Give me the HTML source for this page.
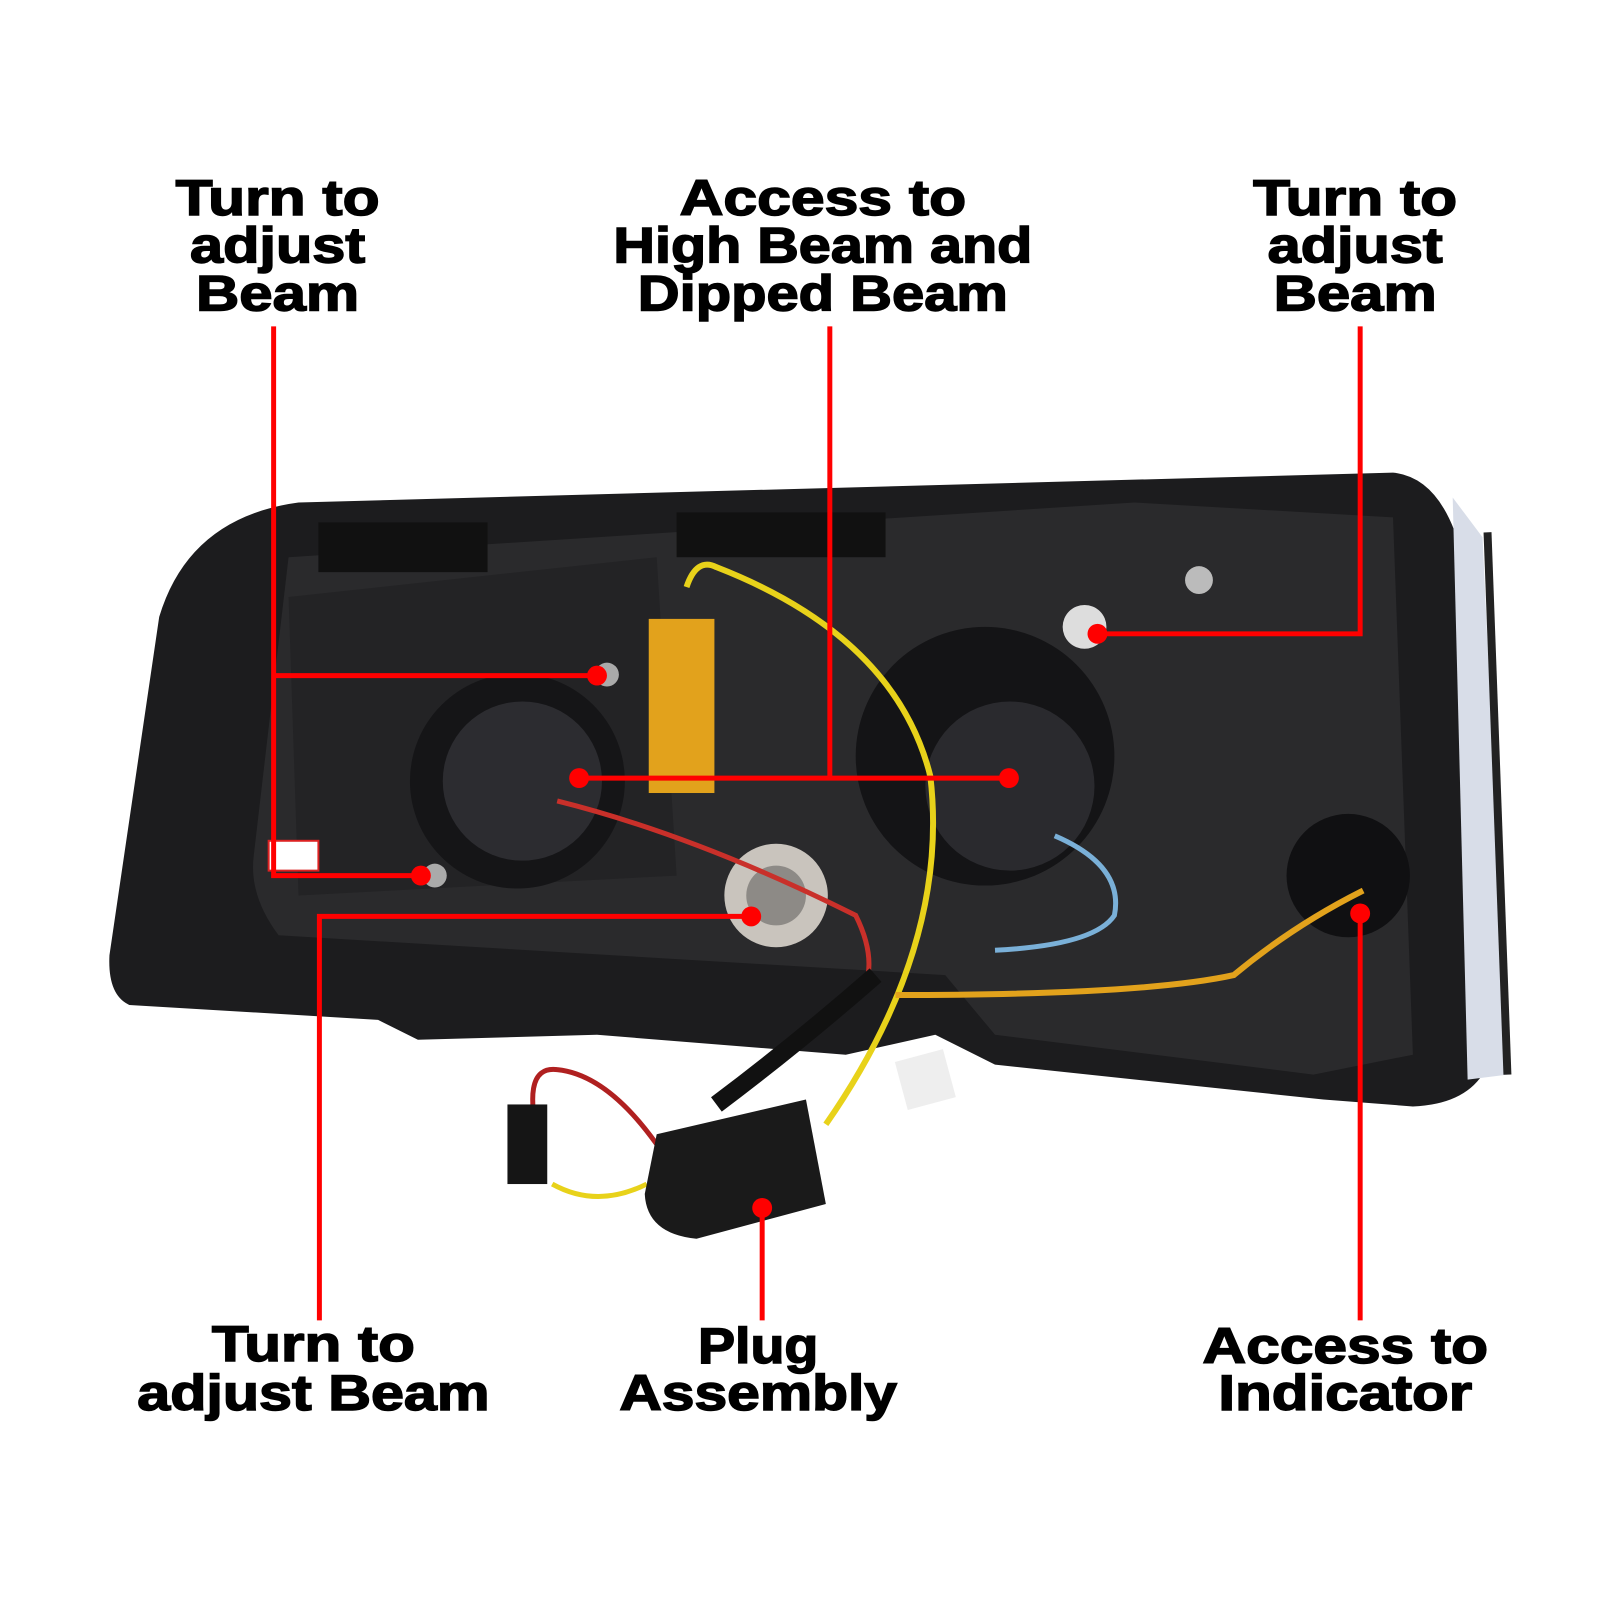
<!DOCTYPE html>
<html><head><meta charset="utf-8"><style>
html,body{margin:0;padding:0;background:#fff;width:1600px;height:1600px;overflow:hidden}
text{font-family:"Liberation Sans",sans-serif;font-weight:bold;font-size:50px;fill:#000;stroke:#000;stroke-width:1.5px;text-anchor:middle}
</style></head><body>
<svg width="1600" height="1600" viewBox="0 0 1600 1600" xmlns="http://www.w3.org/2000/svg">
<g transform="scale(0.995)">
<path d="M300 505 L1400 475 Q1450 480 1470 560 L1490 1080 Q1470 1110 1420 1112 L1330 1105 L1000 1070 L940 1040 L850 1060 L600 1040 L420 1045 L380 1025 L130 1010 Q108 1000 110 960 L160 620 Q190 520 300 505 Z" fill="#1c1c1e"/>
<path d="M290 560 L1140 505 L1400 520 L1420 1060 L1320 1080 L1000 1040 L950 980 L280 940 Q250 900 255 860 Z" fill="#2a2a2c"/>
<path d="M290 600 L660 560 L680 880 L300 900 Z" fill="#232325"/>
<path d="M1460 500 L1490 540 L1515 1080 L1475 1085 Z" fill="#d8dde8"/>
<path d="M1495 535 L1515 1080" stroke="#222" stroke-width="8" fill="none"/>
<circle cx="520" cy="785" r="108" fill="#151517"/>
<circle cx="525" cy="785" r="80" fill="#2c2c30"/>
<circle cx="990" cy="760" r="130" fill="#141416"/>
<circle cx="1015" cy="790" r="85" fill="#2a2a2e"/>
<circle cx="780" cy="900" r="52" fill="#c9c4bd"/>
<circle cx="780" cy="900" r="30" fill="#8d8a86"/>
<circle cx="1355" cy="880" r="62" fill="#101012"/>
<circle cx="1090" cy="630" r="22" fill="#ddd"/>
<circle cx="1205" cy="583" r="14" fill="#bbb"/>
<circle cx="610" cy="678" r="12" fill="#aaa"/>
<circle cx="437" cy="880" r="12" fill="#aaa"/>
<rect x="652" y="622" width="66" height="175" fill="#e2a21c"/>
<rect x="320" y="525" width="170" height="50" fill="#111"/>
<rect x="680" y="515" width="210" height="45" fill="#111"/>
<rect x="270" y="845" width="50" height="30" fill="#fff" stroke="#d22" stroke-width="2"/>
<path d="M690 590 Q700 560 720 570 Q900 640 935 780 Q955 950 830 1130" stroke="#e8d21a" stroke-width="6" fill="none"/>
<path d="M1370 895 Q1300 930 1240 980 Q1150 1000 900 1000" stroke="#e2a21c" stroke-width="6" fill="none"/>
<path d="M1060 840 Q1130 870 1120 920 Q1100 950 1000 955" stroke="#7ab0d8" stroke-width="5" fill="none"/>
<path d="M560 805 Q700 840 860 920 Q880 960 870 990" stroke="#c9302a" stroke-width="5" fill="none"/>
<path d="M880 980 Q800 1050 720 1110" stroke="#111" stroke-width="18" fill="none"/>
<path d="M545 1160 Q520 1070 560 1075 Q610 1080 660 1150" stroke="#b02020" stroke-width="5" fill="none"/>
<path d="M555 1190 Q600 1215 650 1190" stroke="#e8d21a" stroke-width="5" fill="none"/>
<rect x="510" y="1110" width="40" height="80" fill="#151515"/>
<path d="M660 1140 L810 1105 L830 1210 L700 1245 Q650 1240 648 1200 Z" fill="#1a1a1a"/>
<rect x="905" y="1060" width="50" height="50" fill="#eee" transform="rotate(-15 930 1085)"/>
<g stroke="#f00" stroke-width="5" fill="none">
<path d="M275 328 V880 H423 M275 679 H600"/>
<path d="M834 328 V782 M582 782 H1014"/>
<path d="M1367 328 V637 H1103"/>
<path d="M321 1327 V921 H755"/>
<path d="M766 1214 V1327"/>
<path d="M1367 918 V1327"/>
</g>
<g fill="#f00">
<circle cx="600" cy="679" r="10"/><circle cx="423" cy="880" r="10"/>
<circle cx="582" cy="782" r="10"/><circle cx="1014" cy="782" r="10"/>
<circle cx="1103" cy="637" r="10"/><circle cx="755" cy="921" r="10"/>
<circle cx="766" cy="1214" r="10"/><circle cx="1367" cy="918" r="10"/>
</g>
<text x="279" y="216" textLength="205" lengthAdjust="spacingAndGlyphs">Turn to</text>
<text x="279" y="264" textLength="176" lengthAdjust="spacingAndGlyphs">adjust</text>
<text x="279" y="312" textLength="164" lengthAdjust="spacingAndGlyphs">Beam</text>
<text x="827" y="216" textLength="288" lengthAdjust="spacingAndGlyphs">Access to</text>
<text x="827" y="264" textLength="421" lengthAdjust="spacingAndGlyphs">High Beam and</text>
<text x="827" y="312" textLength="372" lengthAdjust="spacingAndGlyphs">Dipped Beam</text>
<text x="1362" y="216" textLength="205" lengthAdjust="spacingAndGlyphs">Turn to</text>
<text x="1362" y="264" textLength="176" lengthAdjust="spacingAndGlyphs">adjust</text>
<text x="1362" y="312" textLength="164" lengthAdjust="spacingAndGlyphs">Beam</text>
<text x="315" y="1368" textLength="204" lengthAdjust="spacingAndGlyphs">Turn to</text>
<text x="315" y="1417" textLength="354" lengthAdjust="spacingAndGlyphs">adjust Beam</text>
<text x="762" y="1370" textLength="121" lengthAdjust="spacingAndGlyphs">Plug</text>
<text x="762" y="1417" textLength="279" lengthAdjust="spacingAndGlyphs">Assembly</text>
<text x="1352" y="1370" textLength="287" lengthAdjust="spacingAndGlyphs">Access to</text>
<text x="1352" y="1417" textLength="255" lengthAdjust="spacingAndGlyphs">Indicator</text>
</g>
</svg>
</body></html>
